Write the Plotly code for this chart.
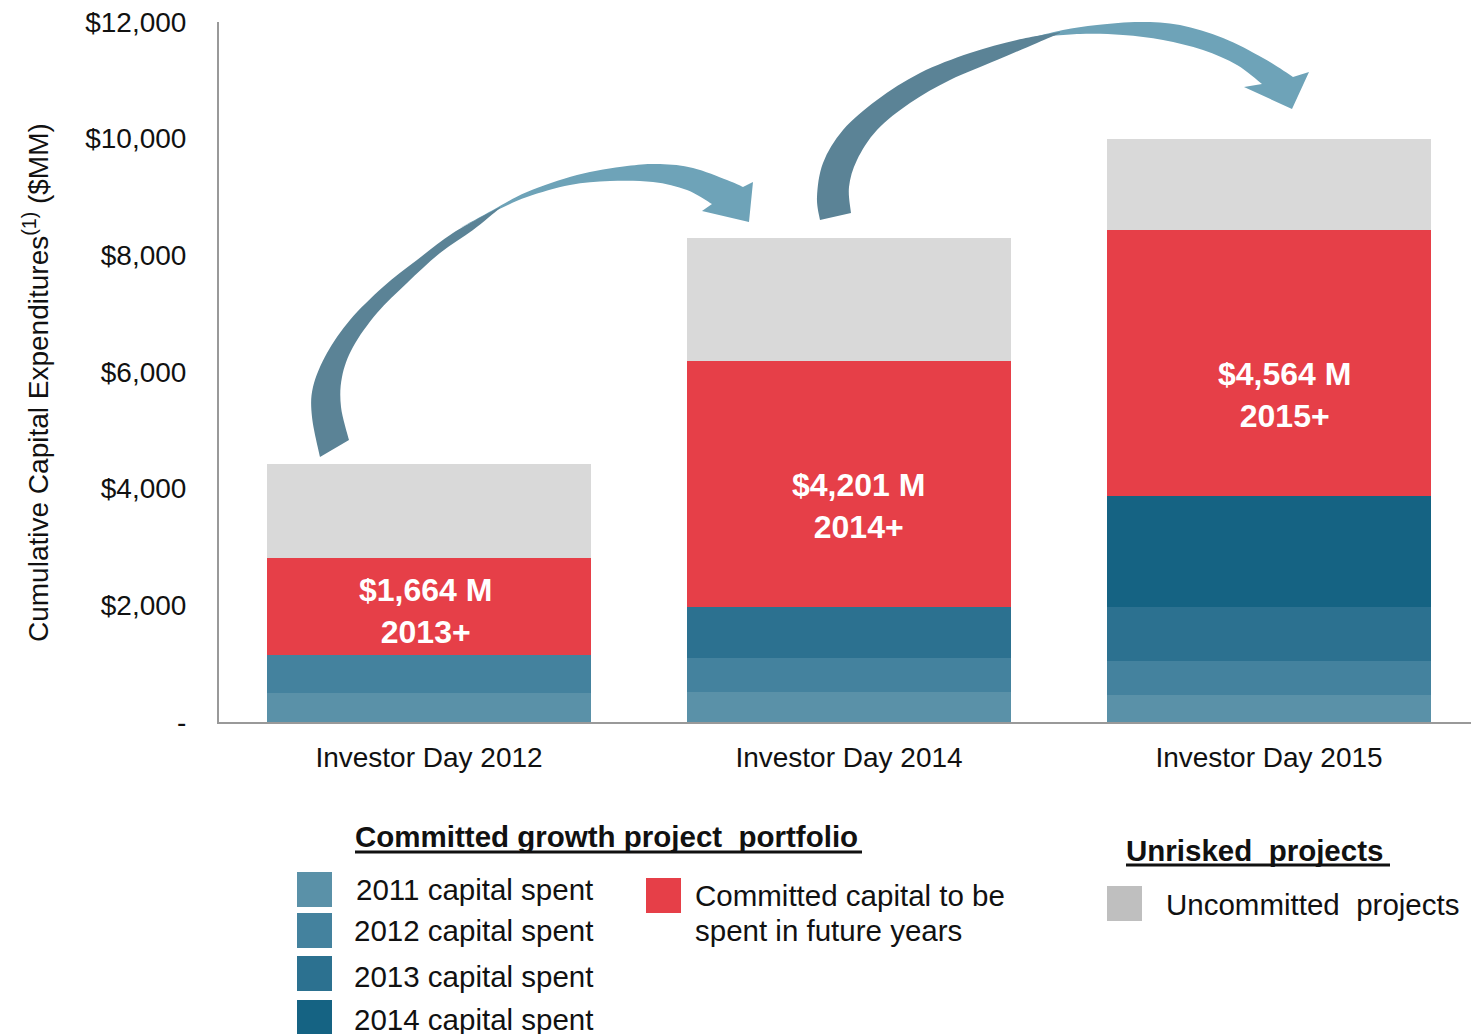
import plotly.graph_objects as go

# ---------------- data ----------------
categories = ["Investor Day 2012", "Investor Day 2014", "Investor Day 2015"]
spent_2011 = [505, 518, 471]
spent_2012 = [650, 576, 583]
spent_2013 = [0, 886, 909]
spent_2014 = [0, 0, 1908]
committed = [1664, 4201, 4564]
uncommitted = [1610, 2110, 1565]
committed_labels = ["$1,664 M<br>2013+", "$4,201 M<br>2014+", "$4,564 M<br>2015+"]
label_frac = [0.45, 0.41, 0.38]
label_xshift = [-4, 9, 15]

y_tickvals = [0, 2000, 4000, 6000, 8000, 10000, 12000]
y_ticktext = ["-", "$2,000", "$4,000", "$6,000", "$8,000", "$10,000", "$12,000"]

series_names = ["2011 capital spent", "2012 capital spent", "2013 capital spent",
                "2014 capital spent", "Committed capital to be spent in future years",
                "Uncommitted  projects"]
series_values = [spent_2011, spent_2012, spent_2013, spent_2014, committed, uncommitted]
series_colors = ["#5A91A8", "#44829E", "#2C7190", "#156383", "#E63F48", "#D9D9D9"]

FONT = "Liberation Sans, Arial, sans-serif"

# ---------------- geometry helpers (layout only; page pixel coords) ----------------
OFF = 8                      # page body margin
W, H = 1479 - OFF, 1034 - OFF
PL, PT, PW, PH = 219, 22, 1260, 700   # plot area in page pixels


def P(x, y):
    return ((x - PL) / PW, (PT + PH - y) / PH)


def fmt(pt):
    x, y = P(*pt)
    return f"{x:.5f},{y:.5f}"


def smooth(pts):
    s = ""
    n = len(pts)
    for i in range(n - 1):
        p0 = pts[i - 1] if i > 0 else pts[i]
        p1 = pts[i]
        p2 = pts[i + 1]
        p3 = pts[i + 2] if i + 2 < n else p2
        c1 = (p1[0] + (p2[0] - p0[0]) / 6, p1[1] + (p2[1] - p0[1]) / 6)
        c2 = (p2[0] - (p3[0] - p1[0]) / 6, p2[1] - (p3[1] - p1[1]) / 6)
        s += f" C {fmt(c1)} {fmt(c2)} {fmt(p2)}"
    return s


def band(edge1, edge2):
    return "M " + fmt(edge1[0]) + smooth(edge1) + " L " + fmt(edge2[0]) + smooth(edge2) + " Z"


def head(top, tip_pts, bottom):
    s = "M " + fmt(top[0]) + smooth(top)
    for p in tip_pts:
        s += " L " + fmt(p)
    s += " L " + fmt(bottom[0]) + smooth(bottom) + " Z"
    return s


fig = go.Figure()

for name, vals, col in zip(series_names, series_values, series_colors):
    fig.add_trace(go.Bar(
        x=categories, y=vals, name=name,
        marker=dict(color=col, line=dict(width=0)),
        width=0.77, showlegend=False, hoverinfo="x+y+name",
    ))

# labels inside committed segments
annotations = []
for i, cat in enumerate(categories):
    base = spent_2011[i] + spent_2012[i] + spent_2013[i] + spent_2014[i]
    annotations.append(dict(
        x=cat, y=base + label_frac[i] * committed[i], xref="x", yref="y",
        xshift=label_xshift[i],
        text=f"<b>{committed_labels[i]}</b>", showarrow=False,
        font=dict(family=FONT, size=32, color="white"),
        xanchor="center", yanchor="middle", align="center",
    ))

# y-axis title
annotations.append(dict(
    x=P(36, 0)[0], y=P(0, 382)[1], xref="paper", yref="paper",
    text="Cumulative Capital Expenditures<sup>(1)</sup> ($MM)", textangle=-90,
    showarrow=False, font=dict(family=FONT, size=28, color="#111111"),
    xanchor="center", yanchor="middle",
))

shapes = []

# ---------------- arrows ----------------
dark, light = "#5B8396", "#6EA3B8"
a1_outer = [(320, 457), (312, 417), (313, 387), (327, 353), (350, 320), (383, 287),
            (417, 260), (453, 233), (500, 207)]
a1_inner = [(500, 208), (473, 230), (440, 253), (407, 283), (377, 313), (353, 347),
            (342, 377), (341, 407), (349, 440)]
a1_top = [(460, 228), (493, 210), (527, 192), (577, 175), (627, 166), (660, 164),
          (693, 168), (727, 180), (743, 187)]
a1_tip = [(753, 182), (749, 222), (702, 211)]
a1_bot = [(712, 204), (687, 190), (653, 182), (610, 181), (570, 185), (527, 197),
          (493, 212), (460, 228)]

a2_outer = [(820, 220), (817, 197), (823, 163), (843, 130), (877, 100), (920, 73),
            (970, 53), (1017, 40), (1060, 32)]
a2_inner = [(1060, 33), (1037, 43), (997, 60), (950, 80), (910, 103), (877, 130),
            (857, 160), (849, 187), (851, 213)]
a2_top = [(1030, 38), (1063, 30), (1097, 25), (1140, 22), (1180, 25), (1223, 38),
          (1263, 58), (1293, 77)]
a2_tip = [(1309, 72), (1292, 109), (1244, 87)]
a2_bot = [(1262, 84), (1237, 65), (1203, 50), (1163, 40), (1123, 35), (1080, 34),
          (1030, 38)]

for outer, inner, top, tip, bot in [(a1_outer, a1_inner, a1_top, a1_tip, a1_bot),
                                    (a2_outer, a2_inner, a2_top, a2_tip, a2_bot)]:
    shapes.append(dict(type="path", xref="paper", yref="paper", path=head(top, tip, bot),
                       fillcolor=light, line=dict(width=0)))
    shapes.append(dict(type="path", xref="paper", yref="paper", path=band(outer, inner),
                       fillcolor=dark, line=dict(width=0)))

# ---------------- custom legend ----------------
def square(x0, y0, size, color):
    a = P(x0, y0 + size)
    b = P(x0 + size, y0)
    shapes.append(dict(type="rect", xref="paper", yref="paper", x0=a[0], y0=a[1],
                       x1=b[0], y1=b[1], fillcolor=color, line=dict(width=0)))


def text(x, y, s, size=29.5, bold=False, anchor="left"):
    px, py = P(x, y)
    annotations.append(dict(x=px, y=py, xref="paper", yref="paper",
                            text=f"<b>{s}</b>" if bold else s, showarrow=False,
                            font=dict(family=FONT, size=size, color="#111111"),
                            xanchor=anchor, yanchor="middle"))


def hline(x0, x1, y, w=3):
    a = P(x0, y)
    b = P(x1, y)
    shapes.append(dict(type="line", xref="paper", yref="paper", x0=a[0], y0=a[1],
                       x1=b[0], y1=b[1], line=dict(color="#111111", width=w)))


text(353, 836, "Committed growth project  portfolio", bold=True)
hline(355, 862, 852)
text(1124, 850, "Unrisked  projects", bold=True)
hline(1126, 1390, 865)

legend_rows_y = [872, 913, 956, 1000]
legend_text_y = [889, 931, 976, 1019]
legend_text_x = [354, 352, 352, 352]
for k in range(4):
    square(297, legend_rows_y[k], 35, series_colors[k])
    text(legend_text_x[k], legend_text_y[k], series_names[k])

square(646, 878, 35, series_colors[4])
text(693, 895, "Committed capital to be")
text(693, 930, "spent in future years")

square(1107, 886, 35, "#BFBFBF")
text(1164, 904, series_names[5])

fig.update_layout(
    width=W, height=H,
    margin=dict(l=PL - OFF, r=W - (PL - OFF) - PW, t=PT - OFF, b=H - (PT - OFF) - PH, pad=0),
    paper_bgcolor="white", plot_bgcolor="white",
    barmode="stack", bargap=0.23,
    font=dict(family=FONT, color="#111111"),
    annotations=annotations, shapes=shapes,
    showlegend=False,
)
fig.update_yaxes(range=[0, 12000], tickvals=y_tickvals, ticktext=y_ticktext,
                 showgrid=False, zeroline=False, showline=True, linecolor="#999999",
                 linewidth=2, ticks="", ticklabelstandoff=25, ticklabeloverflow="allow",
                 tickfont=dict(family=FONT, size=28, color="#111111"))
fig.update_xaxes(showgrid=False, showline=True, linecolor="#999999", linewidth=2,
                 ticks="", ticklabelstandoff=9,
                 tickfont=dict(family=FONT, size=28, color="#111111"))

fig.write_html("out.html")
